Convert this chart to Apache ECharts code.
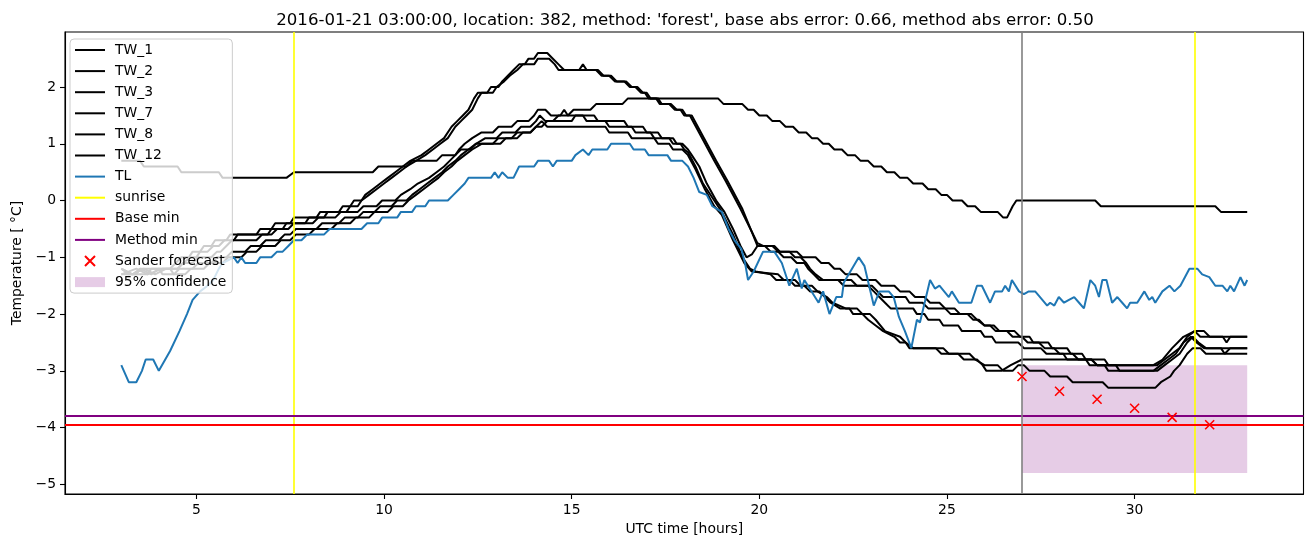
<!DOCTYPE html>
<html>
<head>
<meta charset="utf-8">
<script src="https://cdn.jsdelivr.net/npm/echarts@6/dist/echarts.min.js"></script>
<style>
html,body{margin:0;padding:0;background:#fff;}
#chart{width:1313px;height:547px;}
</style>
</head>
<body>
<div id="chart"></div>
<script>
// ---------------- data (hours UTC, temperature in °C) ----------------
const TW_1 = [[3.0,-1.2],[3.3,-1.3],[3.5,-1.2],[3.8,-1.3],[4.0,-1.2],[4.3,-1.2],[4.45,-1.1],[4.6,-1.0],[4.8,-1.0],[4.9,-0.9],[5.1,-0.9],[5.2,-0.8],[5.4,-0.8],[5.5,-0.7],[5.8,-0.7],[5.9,-0.6],[6.6,-0.6],[6.7,-0.5],[7.0,-0.5],[7.1,-0.4],[7.5,-0.4],[7.6,-0.3],[8.2,-0.3],[8.3,-0.2],[8.8,-0.2],[8.9,-0.1],[9.1,-0.1],[9.2,0.0],[9.4,0.0],[9.5,0.1],[9.7,0.2],[9.9,0.3],[10.1,0.4],[10.3,0.5],[10.5,0.6],[10.7,0.7],[11.0,0.8],[11.2,0.9],[11.4,1.0],[11.6,1.1],[11.8,1.3],[11.95,1.4],[12.1,1.5],[12.25,1.6],[12.4,1.8],[12.5,1.9],[12.75,1.9],[12.85,2.0],[13.05,2.0],[13.15,2.1],[13.3,2.2],[13.45,2.3],[13.6,2.4],[13.75,2.4],[13.85,2.5],[14.0,2.5],[14.1,2.6],[14.35,2.6],[14.5,2.5],[14.65,2.4],[14.8,2.3],[15.2,2.3],[15.3,2.4],[15.4,2.3],[15.7,2.3],[15.85,2.2],[16.0,2.2],[16.15,2.1],[16.4,2.1],[16.55,2.0],[16.7,2.0],[16.85,1.9],[16.95,1.9],[17.05,1.8],[17.25,1.8],[17.35,1.7],[17.6,1.7],[17.75,1.6],[17.9,1.6],[18.0,1.5],[18.15,1.5],[18.8,0.7],[19.1,0.35],[19.5,-0.15],[19.8,-0.55],[19.95,-0.8],[20.4,-0.8],[20.55,-0.9],[21.0,-0.9],[21.15,-1.0],[21.5,-1.0],[21.65,-1.1],[21.85,-1.1],[22.0,-1.2],[22.15,-1.2],[22.3,-1.3],[22.6,-1.3],[22.75,-1.4],[23.1,-1.4],[23.25,-1.5],[23.6,-1.5],[23.75,-1.6],[24.0,-1.6],[24.15,-1.7],[24.4,-1.7],[24.55,-1.8],[24.8,-1.8],[24.95,-1.9],[25.2,-1.9],[25.35,-2.0],[25.55,-2.0],[25.7,-2.1],[25.85,-2.1],[26.0,-2.2],[26.25,-2.2],[26.4,-2.3],[26.6,-2.3],[26.75,-2.4],[27.0,-2.4],[27.15,-2.5],[27.45,-2.5],[27.6,-2.6],[27.85,-2.6],[28.0,-2.7],[28.35,-2.7],[28.5,-2.8],[28.85,-2.8],[29.0,-2.9],[30.5,-2.9],[30.75,-2.8],[31.0,-2.6],[31.3,-2.4],[31.6,-2.3],[31.85,-2.3],[32.0,-2.4],[33.0,-2.4]];

const TW_2 = [[3.0,-1.3],[3.4,-1.2],[3.7,-1.3],[4.1,-1.2],[4.5,-1.2],[4.65,-1.1],[4.85,-1.0],[5.0,-1.0],[5.1,-0.9],[5.3,-0.9],[5.45,-0.8],[5.6,-0.8],[5.75,-0.7],[6.0,-0.7],[6.1,-0.6],[6.9,-0.6],[7.0,-0.5],[7.3,-0.5],[7.4,-0.4],[7.9,-0.4],[8.0,-0.3],[8.4,-0.3],[8.5,-0.2],[9.0,-0.2],[9.1,-0.1],[9.3,-0.1],[9.4,0.0],[9.6,0.1],[9.8,0.2],[10.0,0.3],[10.2,0.4],[10.4,0.5],[10.6,0.6],[10.85,0.7],[11.1,0.8],[11.3,0.9],[11.5,1.0],[11.7,1.1],[11.9,1.3],[12.05,1.4],[12.2,1.5],[12.35,1.6],[12.5,1.8],[12.6,1.9],[12.9,1.9],[13.0,2.0],[13.2,2.1],[13.35,2.2],[13.55,2.3],[13.7,2.4],[14.0,2.4],[14.1,2.5],[14.4,2.5],[14.55,2.4],[14.65,2.3],[15.65,2.3],[15.8,2.2],[16.05,2.2],[16.2,2.1],[16.45,2.1],[16.6,2.0],[16.75,2.0],[16.9,1.9],[17.0,1.9],[17.1,1.8],[17.3,1.8],[17.4,1.7],[17.65,1.7],[17.8,1.6],[17.95,1.6],[18.05,1.5],[18.2,1.5],[18.85,0.7],[19.15,0.35],[19.55,-0.15],[19.8,-0.55],[19.95,-0.75],[20.1,-0.8],[20.35,-0.8],[20.5,-0.9],[20.8,-0.9],[20.95,-1.0],[21.1,-1.0],[21.25,-1.1],[21.35,-1.2],[21.5,-1.3],[21.7,-1.4],[22.45,-1.4],[22.6,-1.5],[23.0,-1.5],[23.15,-1.6],[23.3,-1.7],[23.9,-1.7],[24.0,-1.8],[24.35,-1.8],[24.5,-1.9],[24.95,-1.9],[25.1,-2.0],[25.65,-2.0],[25.8,-2.1],[26.0,-2.2],[26.15,-2.2],[26.3,-2.3],[26.8,-2.3],[26.95,-2.4],[27.2,-2.4],[27.3,-2.5],[27.7,-2.5],[27.8,-2.6],[28.2,-2.6],[28.3,-2.7],[28.6,-2.7],[28.7,-2.8],[29.2,-2.8],[29.3,-2.9],[30.6,-2.9],[30.8,-2.8],[31.0,-2.7],[31.2,-2.6],[31.4,-2.4],[31.6,-2.3],[31.75,-2.4],[32.35,-2.4],[32.45,-2.5],[32.55,-2.4],[33.0,-2.4]];

const TW_3 = [[3.0,-1.2],[3.3,-1.3],[3.6,-1.2],[3.9,-1.3],[4.2,-1.2],[4.5,-1.2],[4.65,-1.1],[4.9,-1.1],[5.05,-1.0],[5.4,-1.0],[5.55,-0.9],[5.65,-0.9],[5.8,-0.8],[5.95,-0.7],[6.6,-0.7],[6.75,-0.6],[7.0,-0.6],[7.15,-0.5],[7.45,-0.5],[7.6,-0.4],[8.1,-0.4],[8.25,-0.3],[8.7,-0.3],[8.85,-0.2],[9.3,-0.2],[9.45,-0.1],[9.8,-0.1],[9.95,0.0],[10.3,0.0],[10.45,0.1],[10.7,0.2],[10.9,0.3],[11.2,0.4],[11.4,0.5],[11.6,0.6],[11.75,0.7],[11.9,0.8],[12.0,0.9],[12.15,1.0],[12.35,1.1],[12.6,1.2],[12.9,1.2],[13.05,1.3],[13.4,1.3],[13.55,1.4],[13.85,1.4],[14.0,1.5],[14.1,1.6],[14.3,1.6],[14.45,1.5],[14.7,1.5],[14.8,1.6],[14.9,1.5],[15.6,1.5],[15.7,1.4],[16.4,1.4],[16.5,1.3],[16.9,1.3],[17.0,1.2],[17.3,1.2],[17.4,1.1],[17.7,1.1],[17.8,1.0],[17.95,1.0],[18.1,0.9],[18.2,0.8],[18.4,0.6],[18.6,0.3],[18.85,0.0],[19.07,-0.2],[19.3,-0.5],[19.5,-0.8],[19.66,-1.0],[19.8,-0.95],[19.95,-0.8],[20.15,-0.8],[20.3,-0.9],[20.5,-0.9],[20.65,-1.0],[20.85,-1.0],[21.0,-1.1],[21.2,-1.1],[21.3,-1.2],[21.45,-1.3],[21.6,-1.4],[22.1,-1.4],[22.25,-1.5],[22.9,-1.5],[23.05,-1.6],[23.2,-1.7],[23.35,-1.8],[23.5,-1.9],[24.1,-1.9],[24.2,-2.0],[24.4,-2.0],[24.5,-2.1],[24.8,-2.1],[24.9,-2.2],[25.3,-2.2],[25.4,-2.3],[25.9,-2.3],[26.0,-2.4],[26.2,-2.4],[26.3,-2.5],[26.9,-2.5],[27.05,-2.6],[27.5,-2.6],[27.65,-2.7],[28.1,-2.7],[28.2,-2.8],[28.7,-2.8],[28.8,-2.9],[29.2,-2.9],[29.3,-3.0],[30.6,-3.0],[30.8,-2.9],[31.0,-2.8],[31.2,-2.7],[31.4,-2.5],[31.55,-2.4],[31.7,-2.5],[31.9,-2.6],[33.0,-2.6]];

const TW_7 = [[3.0,-1.3],[3.4,-1.3],[3.5,-1.2],[4.0,-1.2],[4.1,-1.3],[4.4,-1.3],[4.55,-1.2],[4.9,-1.2],[5.05,-1.1],[5.4,-1.1],[5.55,-1.0],[5.8,-1.0],[5.95,-0.9],[6.3,-0.9],[6.45,-0.8],[6.7,-0.8],[6.85,-0.7],[7.2,-0.7],[7.35,-0.6],[7.5,-0.6],[7.65,-0.5],[8.2,-0.5],[8.35,-0.4],[8.8,-0.4],[8.95,-0.3],[9.3,-0.3],[9.45,-0.2],[9.75,-0.2],[9.9,-0.1],[10.2,-0.1],[10.35,0.0],[10.6,0.0],[10.75,0.1],[10.95,0.2],[11.15,0.3],[11.35,0.4],[11.55,0.5],[11.7,0.6],[11.9,0.7],[12.05,0.8],[12.25,0.9],[12.45,1.0],[12.7,1.1],[13.0,1.1],[13.15,1.2],[13.5,1.2],[13.65,1.3],[13.9,1.3],[14.05,1.4],[14.15,1.5],[14.3,1.4],[15.0,1.4],[15.1,1.5],[15.3,1.5],[15.4,1.4],[15.9,1.4],[16.0,1.3],[16.6,1.3],[16.7,1.2],[17.1,1.2],[17.2,1.1],[17.6,1.1],[17.7,1.0],[17.9,1.0],[18.0,0.9],[18.1,0.85],[18.3,0.6],[18.5,0.3],[18.8,0.0],[19.0,-0.2],[19.3,-0.6],[19.55,-1.0],[19.75,-1.2],[19.9,-1.25],[20.3,-1.3],[20.45,-1.4],[20.8,-1.4],[20.95,-1.5],[21.2,-1.5],[21.35,-1.6],[21.6,-1.6],[21.75,-1.7],[21.9,-1.8],[22.15,-1.9],[22.4,-1.9],[22.5,-2.0],[22.75,-2.0],[22.9,-2.1],[23.1,-2.2],[23.3,-2.3],[23.6,-2.4],[23.75,-2.5],[23.9,-2.5],[24.0,-2.6],[24.7,-2.6],[24.85,-2.7],[25.3,-2.7],[25.45,-2.8],[25.8,-2.8],[25.95,-2.9],[26.05,-3.0],[26.45,-3.0],[26.7,-2.9],[27.0,-2.8],[28.85,-2.8],[29.0,-2.9],[29.5,-2.9],[29.6,-3.0],[30.5,-3.0],[30.7,-2.9],[30.9,-2.8],[31.1,-2.7],[31.3,-2.5],[31.5,-2.4],[31.65,-2.5],[31.85,-2.6],[32.3,-2.6],[32.4,-2.7],[32.55,-2.6],[33.0,-2.6]];

const TW_8 = [[3.0,-1.2],[3.2,-1.3],[3.7,-1.3],[3.8,-1.2],[4.3,-1.2],[4.4,-1.3],[4.7,-1.3],[4.85,-1.2],[5.2,-1.2],[5.35,-1.1],[5.7,-1.1],[5.85,-1.0],[6.2,-1.0],[6.35,-0.9],[6.6,-0.9],[6.75,-0.8],[7.1,-0.8],[7.25,-0.7],[7.5,-0.7],[7.65,-0.6],[8.0,-0.6],[8.15,-0.5],[8.6,-0.5],[8.75,-0.4],[9.1,-0.4],[9.25,-0.3],[9.6,-0.3],[9.75,-0.2],[10.1,-0.2],[10.25,-0.1],[10.5,-0.1],[10.65,0.0],[10.85,0.1],[11.05,0.2],[11.25,0.3],[11.45,0.4],[11.6,0.5],[11.8,0.6],[11.95,0.7],[12.15,0.8],[12.35,0.9],[12.6,1.0],[12.9,1.0],[13.05,1.1],[13.4,1.1],[13.55,1.2],[13.9,1.2],[14.05,1.3],[14.2,1.4],[14.35,1.3],[15.9,1.3],[16.0,1.2],[16.5,1.2],[16.6,1.1],[17.2,1.1],[17.3,1.0],[17.6,1.0],[17.7,0.9],[17.95,0.9],[18.1,0.8],[18.3,0.55],[18.55,0.2],[18.8,-0.1],[19.0,-0.25],[19.3,-0.7],[19.6,-1.1],[19.8,-1.25],[20.5,-1.3],[20.65,-1.4],[20.95,-1.4],[21.1,-1.5],[21.4,-1.5],[21.55,-1.6],[21.8,-1.7],[21.95,-1.8],[22.3,-1.9],[22.6,-1.9],[22.75,-2.0],[22.95,-2.0],[23.1,-2.1],[23.35,-2.3],[23.75,-2.4],[23.9,-2.5],[24.1,-2.6],[24.9,-2.6],[25.05,-2.7],[25.6,-2.7],[25.75,-2.8],[26.0,-2.9],[26.35,-2.9],[26.5,-3.0],[26.75,-3.0],[26.9,-2.9],[27.05,-2.9],[27.2,-3.0],[27.6,-3.0],[27.75,-3.1],[28.2,-3.1],[28.35,-3.2],[29.15,-3.2],[29.3,-3.3],[30.55,-3.3],[30.7,-3.2],[30.95,-3.1],[31.05,-3.0],[31.2,-2.9],[31.4,-2.7],[31.55,-2.6],[31.75,-2.6],[31.9,-2.7],[33.0,-2.7]];

const TW_12 = [[3.0,0.7],[3.5,0.7],[3.6,0.6],[4.5,0.6],[4.6,0.5],[5.6,0.5],[5.7,0.4],[7.4,0.4],[7.6,0.5],[9.7,0.5],[9.85,0.6],[10.6,0.6],[10.75,0.7],[11.4,0.7],[11.55,0.8],[11.9,0.8],[12.05,0.9],[12.3,0.9],[12.45,1.0],[13.1,1.0],[13.25,1.1],[13.55,1.1],[13.7,1.2],[13.9,1.2],[14.05,1.3],[14.2,1.3],[14.35,1.4],[14.5,1.4],[14.65,1.5],[14.9,1.5],[15.05,1.6],[15.5,1.6],[15.65,1.7],[16.35,1.7],[16.5,1.8],[18.9,1.8],[19.05,1.7],[19.55,1.7],[19.7,1.6],[19.85,1.6],[20.0,1.5],[20.2,1.5],[20.35,1.4],[20.55,1.4],[20.7,1.3],[20.9,1.3],[21.05,1.2],[21.25,1.2],[21.4,1.1],[21.55,1.1],[21.7,1.0],[21.85,1.0],[22.0,0.9],[22.2,0.9],[22.35,0.8],[22.55,0.8],[22.7,0.7],[22.9,0.7],[23.05,0.6],[23.25,0.6],[23.4,0.5],[23.6,0.5],[23.75,0.4],[23.95,0.4],[24.1,0.3],[24.35,0.3],[24.5,0.2],[24.7,0.2],[24.85,0.1],[25.0,0.1],[25.15,0.0],[25.4,0.0],[25.55,-0.1],[25.75,-0.1],[25.9,-0.2],[26.35,-0.2],[26.5,-0.3],[26.6,-0.3],[26.75,-0.1],[26.85,0.0],[28.95,0.0],[29.1,-0.1],[32.15,-0.1],[32.3,-0.2],[33.0,-0.2]];

const TL = [[3.0,-2.9],[3.2,-3.2],[3.4,-3.2],[3.55,-3.0],[3.65,-2.8],[3.85,-2.8],[4.0,-3.0],[4.3,-2.65],[4.55,-2.3],[4.75,-2.0],[4.9,-1.75],[5.1,-1.6],[5.3,-1.5],[5.45,-1.4],[5.6,-1.2],[5.7,-1.1],[6.0,-1.0],[6.1,-1.1],[6.2,-1.0],[6.3,-1.1],[6.6,-1.1],[6.7,-1.0],[7.0,-1.0],[7.15,-0.9],[7.3,-0.9],[7.45,-0.8],[7.6,-0.7],[7.8,-0.7],[7.95,-0.6],[8.4,-0.6],[8.55,-0.5],[9.4,-0.5],[9.55,-0.4],[9.85,-0.4],[9.95,-0.3],[10.35,-0.3],[10.45,-0.2],[10.75,-0.2],[10.85,-0.1],[11.1,-0.1],[11.2,0.0],[11.7,0.0],[11.85,0.1],[12.0,0.2],[12.15,0.3],[12.25,0.4],[12.85,0.4],[12.95,0.5],[13.05,0.4],[13.15,0.5],[13.3,0.4],[13.45,0.4],[13.6,0.6],[14.0,0.6],[14.1,0.7],[14.4,0.7],[14.5,0.6],[14.6,0.7],[15.0,0.7],[15.1,0.8],[15.3,0.9],[15.45,0.8],[15.55,0.9],[15.95,0.9],[16.05,1.0],[16.55,1.0],[16.65,0.9],[16.95,0.9],[17.05,0.8],[17.55,0.8],[17.65,0.7],[17.95,0.7],[18.1,0.6],[18.25,0.4],[18.4,0.15],[18.6,0.1],[18.75,-0.1],[19.0,-0.2],[19.18,-0.5],[19.34,-0.7],[19.52,-0.85],[19.62,-1.1],[19.7,-1.4],[19.85,-1.25],[20.1,-0.9],[20.4,-0.9],[20.6,-1.1],[20.8,-1.5],[21.0,-1.2],[21.13,-1.55],[21.2,-1.4],[21.58,-1.8],[21.7,-1.6],[21.87,-2.0],[22.05,-1.7],[22.2,-1.7],[22.25,-1.45],[22.65,-1.0],[22.8,-1.15],[23.05,-1.85],[23.2,-1.6],[23.45,-1.6],[23.58,-1.7],[23.72,-2.05],[23.88,-2.3],[24.05,-2.6],[24.2,-2.1],[24.28,-2.15],[24.55,-1.4],[24.68,-1.55],[24.8,-1.5],[25.05,-1.7],[25.13,-1.6],[25.32,-1.8],[25.65,-1.8],[25.8,-1.5],[25.93,-1.5],[26.15,-1.8],[26.28,-1.6],[26.47,-1.6],[26.55,-1.5],[26.65,-1.6],[26.73,-1.4],[26.92,-1.6],[27.05,-1.65],[27.18,-1.6],[27.35,-1.6],[27.48,-1.7],[27.67,-1.85],[27.75,-1.8],[27.86,-1.85],[27.98,-1.7],[28.12,-1.8],[28.25,-1.75],[28.39,-1.7],[28.52,-1.8],[28.65,-1.9],[28.82,-1.4],[28.95,-1.5],[29.05,-1.7],[29.14,-1.4],[29.25,-1.4],[29.4,-1.8],[29.54,-1.7],[29.67,-1.8],[29.8,-1.9],[29.88,-1.8],[30.07,-1.8],[30.26,-1.6],[30.39,-1.75],[30.47,-1.7],[30.55,-1.8],[30.74,-1.6],[30.93,-1.5],[31.06,-1.6],[31.22,-1.5],[31.46,-1.2],[31.67,-1.2],[31.8,-1.3],[31.99,-1.35],[32.15,-1.5],[32.34,-1.5],[32.47,-1.6],[32.55,-1.5],[32.65,-1.6],[32.82,-1.35],[32.93,-1.5],[33.0,-1.4]];

const sunriseX = [7.6, 31.6];
const nowX = [27.0];
const baseMin = -3.95;
const methodMin = -3.79;
const sanderX = [27, 28, 29, 30, 31, 32];
const sanderY = [-3.10, -3.36, -3.50, -3.66, -3.82, -3.95];
const confidenceX = [27, 33];
const confidenceY = [-4.8, -2.9];
const xTicks = [5, 10, 15, 20, 25, 30];
const yTicks = [-5, -4, -3, -2, -1, 0, 1, 2];
const titleText = "2016-01-21 03:00:00, location: 382, method: 'forest', base abs error: 0.66, method abs error: 0.50";

// ---------------- chart ----------------
const FONT = 'DejaVu Sans';
const LINE_ICON = 'path://M0,0H30V2H0Z';
const chart = echarts.init(document.getElementById('chart'), null, {renderer: 'canvas'});

const twList = [['TW_1', TW_1], ['TW_2', TW_2], ['TW_3', TW_3], ['TW_7', TW_7], ['TW_8', TW_8], ['TW_12', TW_12]];
const series = [];

series.push({
  name: '95% confidence',
  type: 'custom',
  z: 1,
  itemStyle: {color: 'rgba(128,0,128,0.2)'},
  encode: {x: [0, 1], y: [2, 3]},
  data: [[confidenceX[0], confidenceX[1], confidenceY[0], confidenceY[1]]],
  renderItem: function (params, api) {
    const p0 = api.coord([api.value(0), api.value(3)]);
    const p1 = api.coord([api.value(1), api.value(2)]);
    return {type: 'rect', shape: {x: p0[0], y: p0[1], width: p1[0] - p0[0], height: p1[1] - p0[1]},
            style: {fill: 'rgba(128,0,128,0.2)'}};
  },
  silent: true
});

twList.forEach(function (t) {
  series.push({
    name: t[0], type: 'line', data: t[1], symbol: 'none', showSymbol: false, z: 2,
    lineStyle: {color: '#000000', width: 2}, itemStyle: {color: '#000000'}, silent: true
  });
});

series.push({
  name: 'TL', type: 'line', data: TL, symbol: 'none', showSymbol: false, z: 3,
  lineStyle: {color: '#1f77b4', width: 2}, itemStyle: {color: '#1f77b4'}, silent: true
});

function vline(name, xs, color, z) {
  return {
    name: name, type: 'line', data: [], z: z, symbol: 'none',
    lineStyle: {color: color, width: 2}, itemStyle: {color: color},
    markLine: {silent: true, symbol: ['none', 'none'], label: {show: false},
      lineStyle: {color: color, width: 1.6, type: 'solid'}, emphasis: {disabled: true},
      data: xs.map(function (x) { return {xAxis: x}; })}
  };
}
function hline(name, y, color, z) {
  return {
    name: name, type: 'line', data: [], z: z, symbol: 'none',
    lineStyle: {color: color, width: 2}, itemStyle: {color: color},
    markLine: {silent: true, symbol: ['none', 'none'], label: {show: false},
      lineStyle: {color: color, width: 2, type: 'solid'}, emphasis: {disabled: true},
      data: [{yAxis: y}]}
  };
}
series.push(vline('sunrise', sunriseX, '#ffff00', 4));
series.push(hline('Base min', baseMin, '#ff0000', 4));
series.push(hline('Method min', methodMin, '#800080', 4));
series.push(vline('now', nowX, '#808080', 4));

series.push({
  name: 'Sander forecast', type: 'scatter', z: 5,
  data: sanderX.map(function (x, i) { return [x, sanderY[i]]; }),
  symbol: 'path://M0,0L10,10M10,0L0,10', symbolSize: 9, symbolKeepAspect: true,
  itemStyle: {color: '#ff0000', borderColor: '#ff0000', borderWidth: 1.6, opacity: 1},
  silent: true
});

const lineItems = ['TW_1', 'TW_2', 'TW_3', 'TW_7', 'TW_8', 'TW_12', 'TL', 'sunrise', 'Base min', 'Method min']
  .map(function (n) { return {name: n, icon: LINE_ICON}; });

const option = {
  animation: false,
  backgroundColor: '#ffffff',
  title: {
    text: titleText, left: 680, top: 7, textAlign: 'center',
    textStyle: {fontFamily: FONT, fontSize: 16.6, fontWeight: 'normal', color: '#000'}
  },
  grid: {left: 65, right: 9.5, top: 32, bottom: 53, show: true, borderColor: '#000', borderWidth: 1.1, backgroundColor: 'transparent'},
  legend: {
    orient: 'vertical', left: 70, top: 39,
    padding: [3, 6, 3, 5],
    itemWidth: 30, itemHeight: 10, itemGap: 5.1,
    symbolKeepAspect: true,
    backgroundColor: 'rgba(255,255,255,0.8)', borderColor: '#cccccc', borderWidth: 1, borderRadius: 4,
    textStyle: {fontFamily: FONT, fontSize: 13.9, color: '#000', lineHeight: 16, padding: [0, 0, 0, 5]},
    data: lineItems.concat(['Sander forecast', {name: '95% confidence', icon: 'rect'}]),
    selectedMode: false
  },
  xAxis: {
    type: 'value', min: 1.5, max: 34.5,
    name: 'UTC time [hours]', nameLocation: 'middle', nameGap: 28,
    nameTextStyle: {fontFamily: FONT, fontSize: 13.9, color: '#000'},
    axisLine: {show: true, onZero: false, lineStyle: {color: '#000', width: 1.1}},
    axisTick: {show: true, length: 5, inside: false, customValues: xTicks, lineStyle: {color: '#000', width: 1.1}},
    axisLabel: {customValues: xTicks, margin: 9, fontFamily: FONT, fontSize: 13.9, color: '#000'},
    splitLine: {show: false}
  },
  yAxis: {
    type: 'value', min: -5.17, max: 2.97,
    name: 'Temperature [ °C]', nameLocation: 'middle', nameRotate: 90, nameGap: 40,
    nameTextStyle: {fontFamily: FONT, fontSize: 13.9, color: '#000'},
    axisLine: {show: true, onZero: false, lineStyle: {color: '#000', width: 1.1}},
    axisTick: {show: true, length: 5, inside: false, customValues: yTicks, lineStyle: {color: '#000', width: 1.1}},
    axisLabel: {customValues: yTicks, margin: 9, fontFamily: FONT, fontSize: 13.9, color: '#000',
      formatter: function (v) { return v < 0 ? '\u2212' + Math.abs(v) : String(v); }},
    splitLine: {show: false}
  },
  series: series
};
chart.setOption(option);
</script>
</body>
</html>
